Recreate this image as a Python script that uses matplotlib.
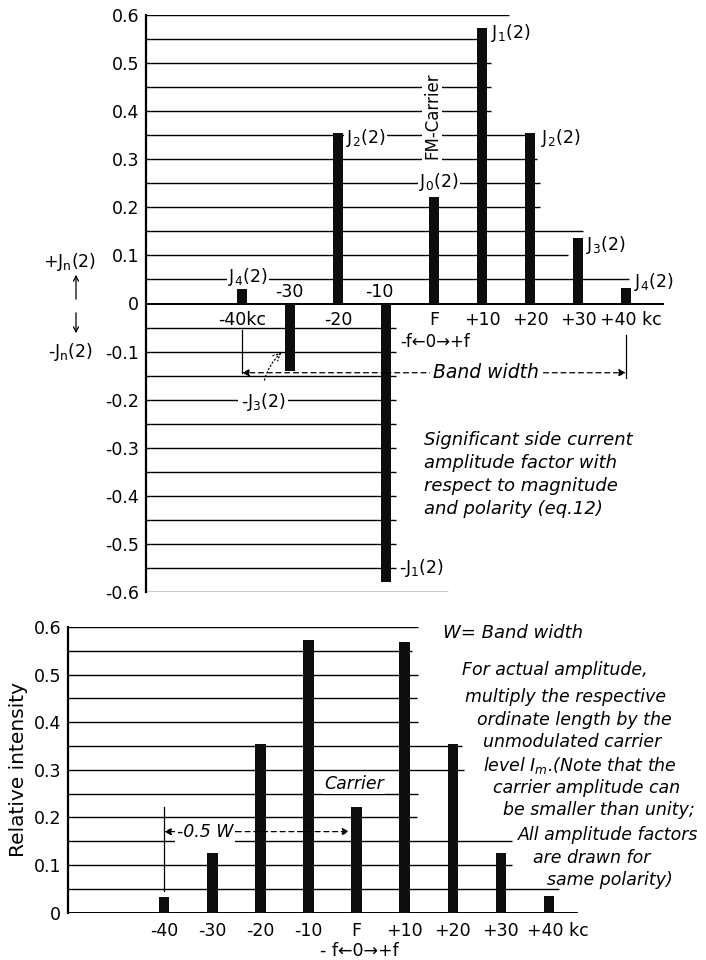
import matplotlib
matplotlib.use("Agg")
import matplotlib.pyplot as plt
from matplotlib.patches import FancyArrowPatch

plt.rcParams["font.family"] = ["DejaVu Sans"]
plt.rcParams["mathtext.fontset"] = "dejavusans"

# ---- data -------------------------------------------------------------
freq_kc = [-40, -30, -20, -10, 0, 10, 20, 30, 40]
top_freq_labels = ["-40kc", "-30", "-20", "-10", "F", "+10", "+20", "+30", "+40 kc"]
bottom_freq_labels = ["-40", "-30", "-20", "-10", "F", "+10", "+20", "+30", "+40 kc"]

# signed side-current amplitude factors J_n(2)
signed_amp = [0.032, -0.14, 0.355, -0.58, 0.222, 0.573, 0.355, 0.136, 0.032]
# relative intensity (all drawn with the same polarity)
rel_intensity = [0.032, 0.126, 0.354, 0.573, 0.221, 0.568, 0.354, 0.124, 0.034]

top_yticks = [0.6, 0.5, 0.4, 0.3, 0.2, 0.1, 0.0, -0.1, -0.2, -0.3, -0.4, -0.5, -0.6]
top_ytick_labels = ["0.6", "0.5", "0.4", "0.3", "0.2", "0.1", "0",
                    "-0.1", "-0.2", "-0.3", "-0.4", "-0.5", "-0.6"]
bottom_yticks = [0.0, 0.1, 0.2, 0.3, 0.4, 0.5, 0.6]
bottom_ytick_labels = ["0", "0.1", "0.2", "0.3", "0.4", "0.5", "0.6"]

top_bar_labels = ["J_4(2)", None, "J_2(2)", "-J_1(2)", "J_0(2)",
                  "J_1(2)", "J_2(2)", "J_3(2)", "J_4(2)"]

# ---- layout -----------------------------------------------------------
W, H = 706, 960
fig = plt.figure(figsize=(W / 100, H / 100), dpi=100)
fig.patch.set_facecolor("white")

def fx(px):
    return px / W

def fy(py):
    return 1 - py / H

BAR_COLOR = "#0d0d0d"
LW_GRID = 1.0
FS = 12.5

# grid line right ends (kc) for each 0.05 level, top panel
top_grid_levels = [0.6, 0.55, 0.5, 0.45, 0.4, 0.35, 0.3, 0.25, 0.2, 0.15, 0.1, 0.05, 0.0,
                   -0.05, -0.1, -0.15, -0.2, -0.25, -0.3, -0.35, -0.4, -0.45, -0.5, -0.55, -0.6]
top_grid_ends = [15.6, 10.0, 11.9, 11.9, 11.9, 19.0, 21.5, 22.0, 22.0, 31.0, 28.0, 40.6, 48.0,
                 -8.0, -8.0, -8.0, -8.0, -8.0, -8.0, -8.0, -8.0, -8.0, -8.0, -8.0, 2.9]

bottom_grid_levels = [0.6, 0.55, 0.5, 0.45, 0.4, 0.35, 0.3, 0.25, 0.2, 0.15, 0.1, 0.05, 0.0]
bottom_grid_ends = [12.7, 11.6, 12.7, 12.5, 12.7, 22.0, 22.4, 12.7, 12.5, 32.4, 32.4, 42.0, 46.0]

white = dict(facecolor="white", edgecolor="none", pad=1.0)

def jlabel(s):
    if s.startswith("-"):
        return "-$\\mathrm{" + s[1:] + "}$"
    return "$\\mathrm{" + s + "}$"

def dashed_arrow(ax, start, end):
    ax.annotate("", xy=end, xytext=start,
                arrowprops=dict(arrowstyle="-|>", lw=0.9, ls=(0, (4, 3)), color="black",
                                mutation_scale=10, shrinkA=0, shrinkB=0), zorder=3)

# ======================= top panel =====================================
top_scale = 4.8  # px per kc
axT = fig.add_axes([fx(146), fy(592), fx(700 - 146), (592 - 15) / H])
axT.set_xlim(-60, -60 + (700 - 146) / top_scale)
axT.set_ylim(-0.6, 0.6)
axT.set_facecolor("none")
for s in ["top", "right", "bottom"]:
    axT.spines[s].set_visible(False)
axT.spines["left"].set_linewidth(1.6)
axT.set_xticks([])
axT.set_yticks(top_yticks)
axT.set_yticklabels(top_ytick_labels, fontsize=FS)
axT.tick_params(axis="y", length=0, pad=5)

for lev, xe in zip(top_grid_levels, top_grid_ends):
    axT.plot([-60, xe], [lev, lev], color="black", lw=LW_GRID if lev != 0 else 1.4,
             zorder=1, solid_capstyle="butt")

axT.bar(freq_kc, signed_amp, width=2.0, color=BAR_COLOR, zorder=2)

label_offsets = {
    0: (1.2, 0.023, "center"),
    2: (1.6, -0.010, "left"),
    3: (2.7, 0.030, "left"),
    4: (1.0, 0.031, "center"),
    5: (1.9, -0.011, "left"),
    6: (2.3, -0.011, "left"),
    7: (1.7, -0.014, "left"),
    8: (1.7, 0.013, "left"),
}
for i, lab in enumerate(top_bar_labels):
    if lab is None:
        continue
    dx, dy, ha = label_offsets[i]
    axT.text(freq_kc[i] + dx, signed_amp[i] + dy, jlabel(lab), fontsize=FS,
             ha=ha, va="center", bbox=white, zorder=4)

# carrier caption along the F bar
axT.text(-0.4, 0.39, "FM-Carrier", rotation=90, fontsize=FS - 0.5, ha="center",
         va="center", bbox=white, zorder=4)

# frequency labels alternating above / below the zero line
above_x = {1: -30.2, 3: -11.3}
below_x = {0: -40.0, 2: -20.0, 4: 0.0, 5: 10.0, 6: 20.0, 7: 30.0, 8: 41.0}
for i, lab in enumerate(top_freq_labels):
    if i in above_x:
        axT.text(above_x[i], 0.005, lab, fontsize=FS, ha="center", va="bottom", zorder=4)
    else:
        axT.text(below_x[i], -0.034, lab, fontsize=FS, ha="center", va="center", zorder=4)

axT.text(0.2, -0.08, "-f\u21900\u2192+f", fontsize=FS - 0.5, ha="center", va="center",
         bbox=white, zorder=4)

# band width marker
bw_y = -0.144
axT.plot([-40, -40], [-0.055, bw_y], color="black", lw=0.9, zorder=3)
axT.plot([40, 40], [-0.065, bw_y - 0.01], color="black", lw=0.9, zorder=3)
dashed_arrow(axT, (-10, bw_y), (-40, bw_y))
dashed_arrow(axT, (-10, bw_y), (40, bw_y))
axT.text(10.8, bw_y, "Band width", fontsize=FS + 1, style="italic", ha="center",
         va="center", bbox=dict(facecolor="white", edgecolor="none", pad=2), zorder=4)

# -J3(2) callout with dotted pointer
axT.annotate("-$\\mathrm{J_3(2)}$", xy=(-31.8, -0.102), xytext=(-35.6, -0.205),
             fontsize=FS, ha="center", va="center",
             bbox=dict(facecolor="white", edgecolor="none", pad=2),
             arrowprops=dict(arrowstyle="->", ls=(0, (1, 2)), lw=0.9, color="black",
                             connectionstyle="arc3,rad=-0.25", shrinkA=6, shrinkB=0),
             zorder=4)

axT.text(-2.1, -0.265,
         "Significant side current\namplitude factor with\nrespect to magnitude\nand polarity (eq.12)",
         fontsize=FS + 0.5, style="italic", ha="left", va="top", linespacing=1.35)

# signed axis legend at the left
fig.text(fx(70), fy(262), "+$\\mathrm{J_n(2)}$", fontsize=FS, ha="center", va="center")
fig.text(fx(70), fy(352), "-$\\mathrm{J_n(2)}$", fontsize=FS, ha="center", va="center")
fig.add_artist(FancyArrowPatch((fx(76), fy(302)), (fx(76), fy(272)),
                               transform=fig.transFigure, arrowstyle="->",
                               mutation_scale=9, lw=0.9, color="black"))
fig.add_artist(FancyArrowPatch((fx(76), fy(310)), (fx(76), fy(336)),
                               transform=fig.transFigure, arrowstyle="->",
                               mutation_scale=9, lw=0.9, color="black"))

# ======================= bottom panel ==================================
bot_scale = 4.81
axB = fig.add_axes([fx(68), fy(912.5), fx(700 - 68), (912.5 - 627) / H])
axB.set_xlim(-60, -60 + (700 - 68) / bot_scale)
axB.set_ylim(0, 0.6)
axB.set_facecolor("none")
for s in ["top", "right", "bottom"]:
    axB.spines[s].set_visible(False)
axB.spines["left"].set_linewidth(1.6)
axB.set_xticks([])
axB.set_yticks(bottom_yticks)
axB.set_yticklabels(bottom_ytick_labels, fontsize=FS)
axB.tick_params(axis="y", length=0, pad=5)
axB.set_ylabel("Relative intensity", fontsize=FS + 2, labelpad=4)

for lev, xe in zip(bottom_grid_levels, bottom_grid_ends):
    axB.plot([-60, xe], [lev, lev], color="black", lw=LW_GRID if lev != 0 else 1.4,
             zorder=1, solid_capstyle="butt")

axB.bar(freq_kc, rel_intensity, width=2.2, color=BAR_COLOR, zorder=2)

bottom_label_x = [-40, -30, -20, -10, 0, 10, 20, 30, 41.8]
for lab, xpos in zip(bottom_freq_labels, bottom_label_x):
    axB.text(xpos, -0.038, lab, fontsize=FS, ha="center", va="center", clip_on=False)
axB.text(0.6, -0.08, "- f\u21900\u2192+f", fontsize=FS, ha="center", va="center",
         clip_on=False)

axB.text(-0.6, 0.27, "Carrier", fontsize=FS, style="italic", ha="center", va="center",
         bbox=white, zorder=4)

# half band width marker
hw_y = 0.17
axB.plot([-40, -40], [0.045, 0.222], color="black", lw=0.9, zorder=3)
dashed_arrow(axB, (-25, hw_y), (-40, hw_y))
dashed_arrow(axB, (-25, hw_y), (-1.5, hw_y))
axB.text(-31.5, hw_y, "-0.5 W", fontsize=FS, style="italic", ha="center", va="center",
         bbox=dict(facecolor="white", edgecolor="none", pad=1.5), zorder=4)

fig.text(fx(443), fy(633), "W= Band width", fontsize=FS + 0.5, style="italic",
         ha="left", va="center")

note_lines = ["For actual amplitude,",
              "multiply the respective",
              "ordinate length by the",
              "unmodulated carrier",
              "level $I_m$.(Note that the",
              "carrier amplitude can",
              "be smaller than unity;",
              "All amplitude factors",
              "are drawn for",
              "same polarity)"]
note_x = [462, 465, 477, 483, 483, 493, 503, 518, 533, 547]
note_y = [670, 697, 720, 742, 765, 788, 810, 835, 858, 880]
for txt, px, py in zip(note_lines, note_x, note_y):
    fig.text(fx(px), fy(py), txt, fontsize=FS, style="italic", ha="left",
             va="center")

fig.savefig("out.png", dpi=100, facecolor="white")
